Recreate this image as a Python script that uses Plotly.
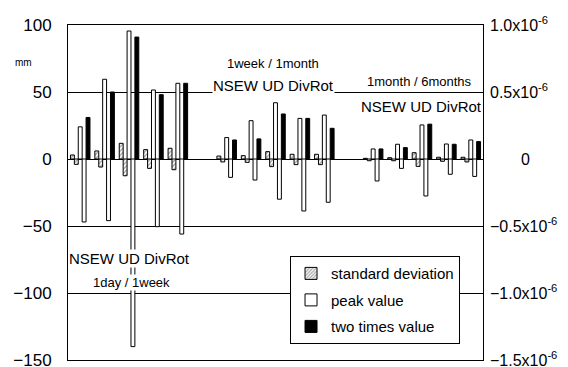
import plotly.graph_objects as go

# ---- data ----
periods = ["1day / 1week", "1week / 1month", "1month / 6months"]
components = ["NS", "EW", "UD", "Div", "Rot"]
sd_pos = [3, 6, 11.7, 7, 8,   2.2, 2.5, 5.5, 3.5, 3.5,   0.5, 1.0, 4.7, 1.3, 1.3]
sd_neg = [-4, -6, -12.5, -7, -8,   -2.2, -2.5, -5.7, -4.2, -4.2,   -1.3, -1.3, -5.5, -1.7, -2.2]
peak_pos = [24, 59.5, 95.5, 51.5, 56.5,   16, 28.6, 42, 30.3, 32.8,   7.5, 11, 25.4, 11.2, 14.2]
peak_neg = [-47, -46, -140, -50.5, -56,   -13.7, -15.7, -30, -38.8, -32.3,   -16.4, -7, -27.6, -11.4, -13]
twice = [31, 50, 91, 48, 56.5,   14.2, 15, 33.6, 30.3, 22.9,   7.5, 8.5, 26, 11, 13]
left_ticks = [-150, -100, -50, 0, 50, 100]
right_tickvals = [-1.5e-6, -1.0e-6, -0.5e-6, 0, 0.5e-6, 1.0e-6]
right_ticktext = ["\u22121.5x10<sup>-6</sup>", "\u22121.0x10<sup>-6</sup>", "\u22120.5x10<sup>-6</sup>",
                  "\u00a0\u00a0\u00a0\u00a0\u00a0\u00a0\u00a00", "0.5x10<sup>-6</sup>", "1.0x10<sup>-6</sup>"]

# x positions: 5 components per period, one empty slot between periods
xpos = [g * (len(components) + 1) + c for g in range(len(periods)) for c in range(len(components))]

FONT = "Liberation Sans, Arial, sans-serif"
line = dict(color="black", width=1)
hatch = dict(shape="/", fgcolor="#444444", bgcolor="white", size=3, solidity=0.45)

fig = go.Figure()
fig.add_trace(go.Bar(x=xpos, y=sd_pos, name="standard deviation", legendgroup="a",
                     marker=dict(color="white", line=line, pattern=hatch)))
fig.add_trace(go.Bar(x=xpos, y=sd_neg, name="standard deviation", legendgroup="a", showlegend=False,
                     marker=dict(color="white", line=line, pattern=hatch)))
fig.add_trace(go.Bar(x=xpos, y=peak_pos, name="peak value", legendgroup="b",
                     marker=dict(color="white", line=line)))
fig.add_trace(go.Bar(x=xpos, y=peak_neg, name="peak value", legendgroup="b", showlegend=False,
                     marker=dict(color="white", line=line)))
fig.add_trace(go.Bar(x=xpos, y=twice, name="two times value", legendgroup="c",
                     marker=dict(color="black", line=line)))
fig.add_trace(go.Scatter(x=[0], y=[0], yaxis="y2", mode="markers", marker=dict(opacity=0),
                         showlegend=False, hoverinfo="skip"))

ann = []
def label(x, y, text, size):
    ann.append(dict(x=x, y=y, xref="x", yref="y", text=text, showarrow=False,
                    font=dict(family=FONT, size=size, color="black"), bgcolor="white", borderpad=0))

step = len(components) + 1
label(0 * step + 2, -74, "NSEW UD DivRot", 15)
label(0 * step + 2.1, -92, periods[0], 13)
label(1 * step + 1.9, 71, periods[1], 13)
label(1 * step + 1.9, 55, "NSEW UD DivRot", 15)
label(2 * step + 1.9, 57.5, periods[2], 13)
label(2 * step + 2.0, 39.5, "NSEW UD DivRot", 15)
ann.append(dict(x=-0.108, y=0.887, xref="paper", yref="paper", text="mm", showarrow=False,
                xanchor="center", yanchor="middle",
                font=dict(family=FONT, size=10, color="black")))

fig.update_layout(
    width=560, height=359,
    margin=dict(l=60, r=85, t=17, b=7),
    paper_bgcolor="white", plot_bgcolor="white",
    barmode="group", bargap=0.2, bargroupgap=0,
    font=dict(family=FONT, color="black"),
    annotations=ann,
    xaxis=dict(range=[-0.5, len(xpos) + len(periods) - 1 - 0.5], showticklabels=False, ticks="",
               showgrid=False, zeroline=False, showline=True, linecolor="black", linewidth=1, mirror=True,
               automargin=False),
    yaxis=dict(range=[-150, 100], tickvals=left_ticks, showgrid=True, gridcolor="black", gridwidth=1,
               zeroline=True, zerolinecolor="black", zerolinewidth=1, showline=True, linecolor="black",
               linewidth=1, mirror=True, ticks="", tickfont=dict(size=17, family=FONT, color="black"),
               ticklabelstandoff=12, ticklabeloverflow="allow", automargin=False),
    yaxis2=dict(range=[-1.5e-6, 1.0e-6], overlaying="y", side="right", tickvals=right_tickvals,
                ticktext=right_ticktext, showgrid=False, zeroline=False, ticks="",
                tickfont=dict(size=16, family=FONT, color="black"), ticklabelstandoff=6,
                ticklabeloverflow="allow", automargin=False),
    legend=dict(x=0.535, y=0.31, xanchor="left", yanchor="top", bgcolor="white",
                bordercolor="black", borderwidth=1, font=dict(size=15, family=FONT, color="black"),
                traceorder="grouped", tracegroupgap=4),
    showlegend=True,
)

fig.write_html("out.html")
